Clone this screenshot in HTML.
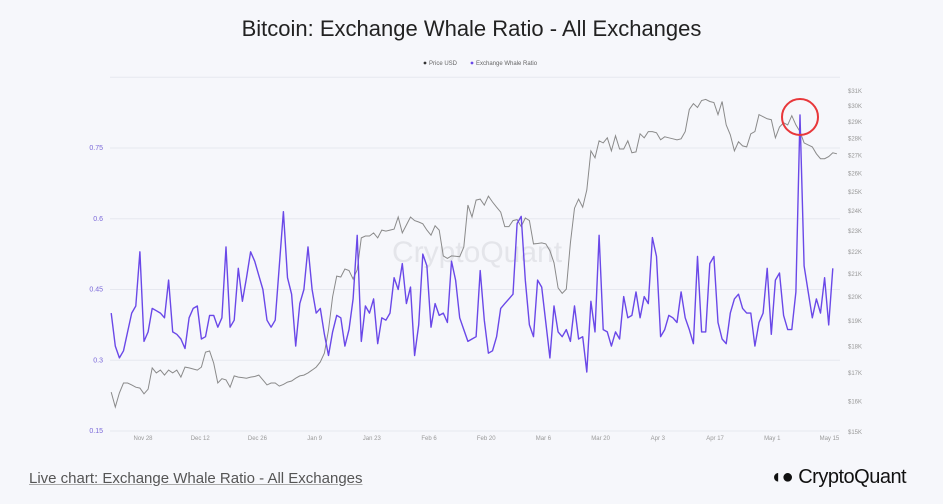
<!DOCTYPE html>
<html><head><meta charset="utf-8">
<style>
html,body{margin:0;padding:0;background:#f6f7fb;width:943px;height:504px;overflow:hidden;font-family:"Liberation Sans",sans-serif;}
#title{position:absolute;left:0;width:943px;top:16px;text-align:center;font-size:22px;color:#222;}
#live{position:absolute;left:29px;top:470px;font-size:15px;color:#555;text-decoration:underline;text-decoration-color:#aaa;}
#logo{position:absolute;left:770px;top:466px;font-size:20px;color:#111;letter-spacing:-0.5px;}
svg{position:absolute;left:0;top:0;}
</style></head><body>
<div id="title">Bitcoin: Exchange Whale Ratio - All Exchanges</div>
<svg id="chart" width="943" height="504"></svg>
<a id="live">Live chart: Exchange Whale Ratio - All Exchanges</a>
<div id="logo"><span style="font-weight:bold">◖●</span> CryptoQuant</div>
<script>
const xTickLabels=["Nov 28","Dec 12","Dec 26","Jan 9","Jan 23","Feb 6","Feb 20","Mar 6","Mar 20","Apr 3","Apr 17","May 1","May 15"];
const leftTicks=[0.15,0.3,0.45,0.6,0.75];
const rightTicks=[15,16,17,18,19,20,21,22,23,24,25,26,27,28,29,30,31];
const whaleStartDay=-8;
const whaleValues=[0.40,0.33,0.305,0.32,0.36,0.40,0.415,0.53,0.34,0.36,0.41,0.405,0.40,0.39,0.47,0.36,0.355,0.345,0.325,0.39,0.41,0.415,0.345,0.35,0.395,0.395,0.37,0.39,0.54,0.37,0.385,0.495,0.425,0.475,0.53,0.51,0.48,0.45,0.385,0.37,0.385,0.50,0.615,0.475,0.44,0.33,0.42,0.45,0.54,0.45,0.40,0.41,0.355,0.31,0.36,0.395,0.39,0.33,0.365,0.43,0.565,0.34,0.415,0.40,0.43,0.335,0.39,0.385,0.40,0.475,0.45,0.505,0.42,0.455,0.31,0.375,0.525,0.50,0.37,0.42,0.395,0.40,0.38,0.51,0.47,0.39,0.365,0.34,0.345,0.35,0.49,0.385,0.315,0.32,0.35,0.41,0.42,0.43,0.44,0.59,0.605,0.47,0.375,0.35,0.47,0.455,0.38,0.305,0.415,0.36,0.35,0.365,0.34,0.415,0.345,0.35,0.275,0.425,0.36,0.565,0.365,0.36,0.33,0.36,0.345,0.435,0.39,0.395,0.445,0.39,0.435,0.42,0.56,0.52,0.35,0.365,0.395,0.39,0.38,0.445,0.39,0.365,0.335,0.52,0.36,0.36,0.505,0.52,0.38,0.345,0.335,0.40,0.43,0.44,0.41,0.40,0.40,0.33,0.38,0.40,0.495,0.355,0.47,0.485,0.395,0.365,0.365,0.445,0.82,0.50,0.445,0.39,0.43,0.40,0.475,0.375,0.495];
const priceStartDay=-8;
const priceValues=[16.33,15.82,16.30,16.65,16.65,16.58,16.50,16.47,16.27,16.43,17.19,17.01,17.11,16.93,17.11,17.01,17.11,16.86,17.22,17.19,17.15,17.11,17.22,17.78,17.82,17.37,16.65,16.80,16.76,16.50,16.90,16.86,16.84,16.82,16.86,16.88,16.93,16.76,16.58,16.65,16.65,16.54,16.60,16.68,16.72,16.82,16.90,16.93,17.01,17.11,17.22,17.41,17.74,18.64,20.0,20.90,20.86,21.22,21.15,20.77,21.18,22.67,22.76,22.76,22.91,22.67,23.05,23.00,23.05,23.10,23.70,22.91,23.30,23.70,23.52,23.45,23.36,23.05,22.80,23.26,23.05,21.82,21.70,21.82,21.80,21.78,22.23,24.31,23.70,24.57,24.62,24.31,24.78,24.47,24.20,23.95,23.22,23.22,23.52,23.57,23.22,23.65,23.52,22.38,22.40,22.43,22.38,22.06,21.50,20.38,20.15,20.33,22.43,24.15,24.62,24.20,25.10,27.28,26.88,27.87,27.75,28.05,27.28,28.17,27.39,27.39,27.87,27.17,27.22,28.29,28.05,28.42,28.42,28.35,27.93,28.11,28.05,27.99,27.93,27.99,28.42,29.79,30.17,29.92,30.37,30.44,30.30,30.24,29.47,30.30,28.83,28.23,27.28,27.81,27.57,27.51,28.29,28.42,29.47,29.34,29.21,29.15,28.05,28.70,28.96,28.83,29.40,28.83,28.42,27.75,27.63,27.51,27.11,26.83,26.83,26.95,27.17,27.11];

const NS="http://www.w3.org/2000/svg";
const svg=document.getElementById('chart');
function mk(t,a){const e=document.createElementNS(NS,t);for(const k in a)e.setAttribute(k,a[k]);svg.appendChild(e);return e;}
const xDay=d=>144+d*4.1;
const yLeft=v=>431-(v-0.15)/0.15*70.75;
const yRight=p=>432-470*Math.log(p/15);

[0.15,0.3,0.45,0.6,0.75,0.9].forEach(v=>{
  const g=mk('line',{x1:110,x2:840,y1:yLeft(v),y2:yLeft(v),stroke:'#e6e8ef','stroke-width':1});
  
  
});

const wm=mk('text',{x:477,y:262,'text-anchor':'middle','font-size':30,fill:'#e4e5ea','font-family':'Liberation Sans, sans-serif'});
wm.textContent='CryptoQuant';



leftTicks.forEach(v=>{
  const t=mk('text',{x:103,y:yLeft(v)+2,'text-anchor':'end','font-size':7,fill:'#7a68d8'});
  t.textContent=v.toFixed(2).replace(/0$/,'');
  
  
});
rightTicks.forEach(p=>{
  const t=mk('text',{x:848,y:yRight(p)+2,'font-size':6,fill:'#999'});
  t.textContent='$'+p+'K';
  
  
});
xTickLabels.forEach((l,i)=>{
  const t=mk('text',{x:143+i*14*4.086,y:440,'text-anchor':'middle','font-size':6,fill:'#999'});
  t.textContent=l;
  
  
});

const pp=priceValues.map((p,i)=>xDay(priceStartDay+i).toFixed(1)+','+yRight(p).toFixed(1)).join(' ');
const pl=mk('polyline',{points:pp,fill:'none',stroke:'#8a8a8a','stroke-width':1});



const wp=whaleValues.map((v,i)=>xDay(whaleStartDay+i).toFixed(1)+','+yLeft(v).toFixed(1)).join(' ');
const wl=mk('polyline',{points:wp,fill:'none',stroke:'#6a48e8','stroke-width':1.4,'stroke-linejoin':'round'});



let mi=0;whaleValues.forEach((v,i)=>{if(v>whaleValues[mi])mi=i;});
const hc=mk('circle',{cx:xDay(whaleStartDay+mi),cy:117,r:18,fill:'none',stroke:'#e8373a','stroke-width':2});



const lg=[['Price USD','#333',425],['Exchange Whale Ratio','#6a48e8',472]];
lg.forEach(([n,c,x])=>{
  const d=mk('circle',{cx:x,cy:63,r:1.4,fill:c});
  
  
  const t=mk('text',{x:x+4,y:65,'font-size':6,fill:'#666'});
  t.textContent=n;
  
  
});
</script>
</body></html>
